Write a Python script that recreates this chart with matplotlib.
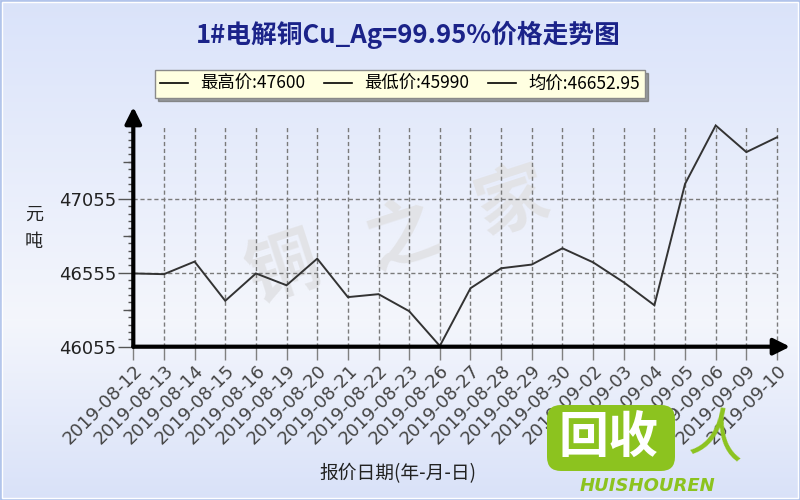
import matplotlib
matplotlib.use("Agg")
import matplotlib.pyplot as plt
import numpy as np
from matplotlib.lines import Line2D
from matplotlib.patches import FancyBboxPatch, Rectangle
from matplotlib.ticker import FixedLocator

plt.rcParams['font.family'] = ['DejaVu Sans', 'Noto Sans CJK SC']

# ---------------- data ----------------
dates = ['2019-08-12', '2019-08-13', '2019-08-14', '2019-08-15', '2019-08-16',
         '2019-08-19', '2019-08-20', '2019-08-21', '2019-08-22', '2019-08-23',
         '2019-08-26', '2019-08-27', '2019-08-28', '2019-08-29', '2019-08-30',
         '2019-09-02', '2019-09-03', '2019-09-04', '2019-09-05', '2019-09-06',
         '2019-09-09', '2019-09-10']
prices = [46550, 46545, 46630, 46365, 46550, 46470, 46650, 46390, 46410, 46295,
          46060, 46450, 46585, 46610, 46720, 46625, 46490, 46335, 47155, 47550,
          47370, 47470]
y_ticks = [46055, 46555, 47055]
stat_names = ['最高价', '最低价', '均价']
stat_values = ['47600', '45990', '46652.95']

title = '1#电解铜Cu_Ag=99.95%价格走势图'
xlabel = '报价日期(年-月-日)'
ylabel_chars = ['元', '吨']
CJK = ['Noto Sans CJK SC', 'DejaVu Sans']

W, H = 800, 500
fig = plt.figure(figsize=(8, 5), dpi=100)

# ---------------- background gradient ----------------
bg = fig.add_axes([0, 0, 1, 1], zorder=-10)
bg.set_axis_off()
yy = np.linspace(0, 1, 500)
stops_y = [0.0, 0.64, 1.0]
top_c = np.array([0.855, 0.890, 0.980])
mid_c = np.array([0.957, 0.965, 0.988])
bot_c = np.array([0.850, 0.884, 0.975])
grad = np.zeros((500, 1, 3))
for ch in range(3):
    grad[:, 0, ch] = np.interp(yy, stops_y, [top_c[ch], mid_c[ch], bot_c[ch]])
bg.imshow(grad, aspect='auto', extent=[0, 1, 0, 1], origin='upper')
bg.set_xlim(0, 1)
bg.set_ylim(0, 1)
bg.add_patch(Rectangle((0.5 / W, 0.5 / H), 1 - 1 / W, 1 - 1 / H, fill=False,
                       ec='#aabfe9', lw=1.2, transform=bg.transAxes))
bg.add_patch(Rectangle((2 / W, 2 / H), 1 - 4 / W, 1 - 4 / H, fill=False,
                       ec='white', lw=1.0, transform=bg.transAxes))

# watermark
for ch_txt, (px, py) in zip(['铜', '之', '家'], [(283, 270), (402, 236), (513, 203)]):
    bg.text(px / W, 1 - py / H, ch_txt, fontsize=52, color='#e2e3e7', rotation=18,
            ha='center', va='center', family=CJK, weight='bold',
            transform=bg.transAxes)

# ---------------- main axes ----------------
left_px, right_px, bottom_px, top_px = 133.3, 790, 346.7, 107
ax = fig.add_axes([left_px / W, 1 - bottom_px / H,
                   (right_px - left_px) / W, (bottom_px - top_px) / H])
ax.patch.set_alpha(0)
n = len(dates)
x = np.arange(n)
step_px = (777 - left_px) / (n - 1)
xmax = (right_px - left_px) / step_px
ymin = y_ticks[0]
px_per_unit = 74.0 / 500
ymax = ymin + (bottom_px - top_px) / px_per_unit
ax.set_xlim(0, xmax)
ax.set_ylim(ymin, ymax)
for s in ax.spines.values():
    s.set_visible(False)

grid_top = ymin + (bottom_px - 125) / px_per_unit
ax.vlines(x[1:], ymin, grid_top, colors='#7a7a7a', lw=1, linestyles=(0, (3, 2)), zorder=1)
ax.hlines(y_ticks[1:], 0, x[-1], colors='#7a7a7a', lw=1, linestyles=(0, (3, 2)), zorder=1)

ax.plot(x, prices, color='#333333', lw=1.4, zorder=3, solid_joinstyle='miter')

# axis lines with arrows
ax.annotate('', xy=(1.0, 0), xytext=(0, 0), xycoords='axes fraction',
            arrowprops=dict(arrowstyle='-|>,head_length=0.7,head_width=0.35',
                            lw=3, color='black', shrinkA=0, shrinkB=0,
                            mutation_scale=14), zorder=5, annotation_clip=False)
ax.annotate('', xy=(0, 1.0), xytext=(0, 0), xycoords='axes fraction',
            arrowprops=dict(arrowstyle='-|>,head_length=0.7,head_width=0.35',
                            lw=3, color='black', shrinkA=0, shrinkB=0,
                            mutation_scale=14), zorder=5, annotation_clip=False)

# x ticks
ax.set_xticks(x)
ax.set_xticklabels(dates, rotation=45, ha='right', va='top', rotation_mode='anchor',
                   fontsize=13, color='#444444')
ax.tick_params(axis='x', length=9.5, width=1, color='#808080', pad=1)

# y ticks
ax.yaxis.set_major_locator(FixedLocator(y_ticks))
ax.set_yticklabels([str(v) for v in y_ticks], fontsize=13, color='#222222')
ax.yaxis.set_minor_locator(FixedLocator(np.arange(ymin, ymin + 1550, 50)))
ax.tick_params(axis='y', which='major', length=11, width=1, color='#555555', pad=1)
ax.tick_params(axis='y', which='minor', length=3.6, width=1, color='#555555')
sec = ax.secondary_yaxis('left')
sec.yaxis.set_major_locator(FixedLocator([ymin + 250, ymin + 750, ymin + 1250]))
sec.tick_params(axis='y', length=7.2, width=1, color='#555555', labelleft=False)
sec.spines['left'].set_visible(False)

# ---------------- texts ----------------
fig.text(408 / W, 1 - 35 / H, title, fontsize=18.5, color='#1b2389', weight='bold',
         family=CJK, ha='center', va='center')
fig.text(34 / W, 1 - 215 / H, ylabel_chars[0], fontsize=13, family=CJK,
         ha='center', va='center', color='#222222')
fig.text(34 / W, 1 - 242 / H, ylabel_chars[1], fontsize=13, family=CJK,
         ha='center', va='center', color='#222222')
fig.text(398 / W, 1 - 474 / H, xlabel, fontsize=13.5, family=CJK,
         ha='center', va='center', color='#222222')

# legend
handles = [Line2D([], [], color='black', lw=1.2) for _ in stat_names]
labels = [f'{nm}:{v}' for nm, v in zip(stat_names, stat_values)]
leg = fig.legend(handles, labels, loc='center', bbox_to_anchor=(400 / W, 1 - 84 / H),
                 ncol=3, prop={'family': CJK, 'size': 12.5}, handlelength=1.6,
                 handletextpad=0.7, columnspacing=1.1, borderpad=0.3,
                 frameon=True, fancybox=False, shadow=True, borderaxespad=0)
fr = leg.get_frame()
fr.set_facecolor('#ffffe1')
fr.set_edgecolor('#8a8a8a')
fr.set_linewidth(1)
fr.set_alpha(1)

# ---------------- site logo overlay ----------------
green = '#8cc31f'
bg2 = fig.add_axes([0, 0, 1, 1], zorder=20)
bg2.set_axis_off()
bg2.set_xlim(0, W)
bg2.set_ylim(H, 0)
bg2.patch.set_alpha(0)
bg2.add_patch(FancyBboxPatch((547, 405), 128, 66, boxstyle='round,pad=0,rounding_size=14',
                             fc=green, ec='none'))
bg2.text(609, 438, '回收', fontsize=36, color='white', weight='bold', family=CJK,
         ha='center', va='center')
bg2.text(717, 438, '人', fontsize=40, color=green, family=CJK, ha='center', va='center',
         rotation=-10)
bg2.text(648, 486, 'HUISHOUREN', fontsize=13, color=green, weight='bold', style='italic',
         ha='center', va='center')

fig.savefig('out.png', dpi=100)
